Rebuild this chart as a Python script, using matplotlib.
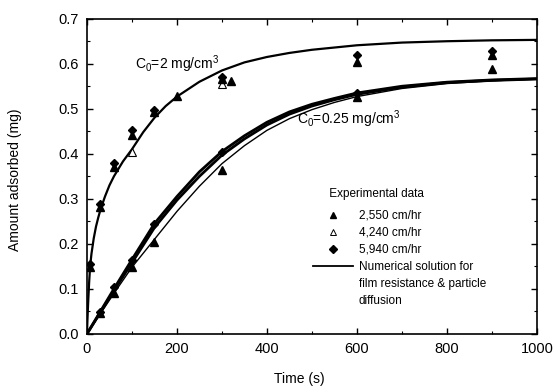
import matplotlib
matplotlib.use("Agg")
import matplotlib.pyplot as plt
from matplotlib.lines import Line2D
from matplotlib.ticker import MultipleLocator

plt.rcParams['font.family'] = ['Liberation Sans', 'DejaVu Sans']
plt.rcParams['mathtext.fontset'] = 'custom'
plt.rcParams['mathtext.rm'] = 'Liberation Sans'

# numerical solution, C0 = 2 mg/cm3
t_hi = [0, 1, 2, 3, 5, 7, 10, 15, 20, 25, 30, 40, 50, 60, 80, 100, 125, 150,
        175, 200, 250, 300, 350, 400, 450, 500, 600, 700, 800, 900, 1000]
q_hi = [0, 0.030, 0.055, 0.078, 0.118, 0.150, 0.178, 0.212, 0.238, 0.258,
        0.276, 0.305, 0.330, 0.350, 0.383, 0.410, 0.448, 0.480, 0.506, 0.527,
        0.560, 0.585, 0.603, 0.615, 0.624, 0.631, 0.641, 0.647, 0.650, 0.652, 0.653]

# numerical solutions, C0 = 0.25 mg/cm3 (three flow rates)
t_lo = [0, 30, 60, 100, 150, 200, 250, 300, 350, 400, 450, 500, 550, 600,
        700, 800, 900, 1000]
q_lo_a = [0, 0.050, 0.100, 0.165, 0.245, 0.305, 0.360, 0.405, 0.440, 0.470,
          0.493, 0.510, 0.523, 0.535, 0.550, 0.559, 0.564, 0.567]
q_lo_b = [0, 0.048, 0.096, 0.158, 0.236, 0.297, 0.350, 0.397, 0.433, 0.464,
          0.488, 0.506, 0.520, 0.532, 0.548, 0.558, 0.563, 0.566]
q_lo_c = [0, 0.045, 0.090, 0.148, 0.210, 0.272, 0.328, 0.378, 0.418, 0.452,
          0.478, 0.498, 0.514, 0.527, 0.545, 0.556, 0.562, 0.566]

# experimental data
t_2550 = [7, 30, 60, 100, 150, 200, 300, 320, 600, 900, 900,
          30, 60, 100, 150, 300, 600]
q_2550 = [0.148, 0.282, 0.371, 0.441, 0.492, 0.528, 0.566, 0.561, 0.604, 0.620, 0.589,
          0.046, 0.090, 0.148, 0.205, 0.365, 0.527]
t_4240 = [100, 300]
q_4240 = [0.404, 0.556]
t_5940 = [7, 30, 60, 100, 150, 300, 600, 900,
          30, 60, 100, 150, 300, 600]
q_5940 = [0.155, 0.288, 0.379, 0.452, 0.498, 0.571, 0.619, 0.628,
          0.048, 0.105, 0.165, 0.245, 0.405, 0.535]

fig, ax = plt.subplots(figsize=(5.54, 3.90), dpi=100)
fig.subplots_adjust(left=0.157, right=0.969, bottom=0.144, top=0.952)

ax.plot(t_hi, q_hi, c="black", lw=1.6)
ax.plot(t_lo, q_lo_a, c="black", lw=2.0)
ax.plot(t_lo, q_lo_b, c="black", lw=2.0)
ax.plot(t_lo, q_lo_c, c="black", lw=1.0)

ax.plot(t_4240, q_4240, ls="none", marker="^", ms=5.5, mfc="white", mec="black", mew=0.8)
ax.plot(t_2550, q_2550, ls="none", marker="^", ms=5.5, c="black")
ax.plot(t_5940, q_5940, ls="none", marker="D", ms=4.5, c="black")

ax.text(107, 0.60, r"C$_0$=2 mg/cm$^3$", fontsize=10, va="center")
ax.text(466, 0.476, r"C$_0$=0.25 mg/cm$^3$", fontsize=10, va="center")

handles = [Line2D([], [], ls="none", marker="^", ms=5, c="black"),
           Line2D([], [], ls="none", marker="^", ms=5, mfc="white", mec="black", mew=0.7),
           Line2D([], [], ls="none", marker="D", ms=4, c="black"),
           Line2D([], [], c="black", lw=1.3),
           Line2D([], [], ls="none"),
           Line2D([], [], ls="none")]
labels = ["2,550 cm/hr", "4,240 cm/hr", "5,940 cm/hr",
          "Numerical solution for", "film resistance & particle", "diffusion"]
leg = ax.legend(handles, labels, title="     Experimental data", loc="upper left",
                bbox_to_anchor=(0.502, 0.462), frameon=False, fontsize=8.5,
                title_fontsize=8.5, handlelength=3.4, handletextpad=0.5,
                labelspacing=0.42, borderpad=0, borderaxespad=0)
leg._legend_box.align = "left"
leg._legend_box.sep = 7

ax.set_xlim(0, 1000)
ax.set_ylim(0, 0.7)
ax.xaxis.set_major_locator(MultipleLocator(200))
ax.xaxis.set_minor_locator(MultipleLocator(100))
ax.yaxis.set_major_locator(MultipleLocator(0.1))
ax.yaxis.set_minor_locator(MultipleLocator(0.05))
ax.yaxis.set_major_formatter(plt.FormatStrFormatter("%.1f"))
ax.tick_params(which="both", direction="in", top=True, right=True, labelsize=10.5, pad=6)
ax.tick_params(which="major", length=4, width=1)
ax.tick_params(which="minor", length=2, width=0.8)
for s in ax.spines.values():
    s.set_linewidth(1.2)

ax.set_xlabel("Time (s)", fontsize=10)
ax.set_ylabel("Amount adsorbed (mg)", fontsize=10)
ax.xaxis.set_label_coords(0.471, -0.12)
ax.yaxis.set_label_coords(-0.145, 0.49)

plt.savefig("out.png", dpi=100)
